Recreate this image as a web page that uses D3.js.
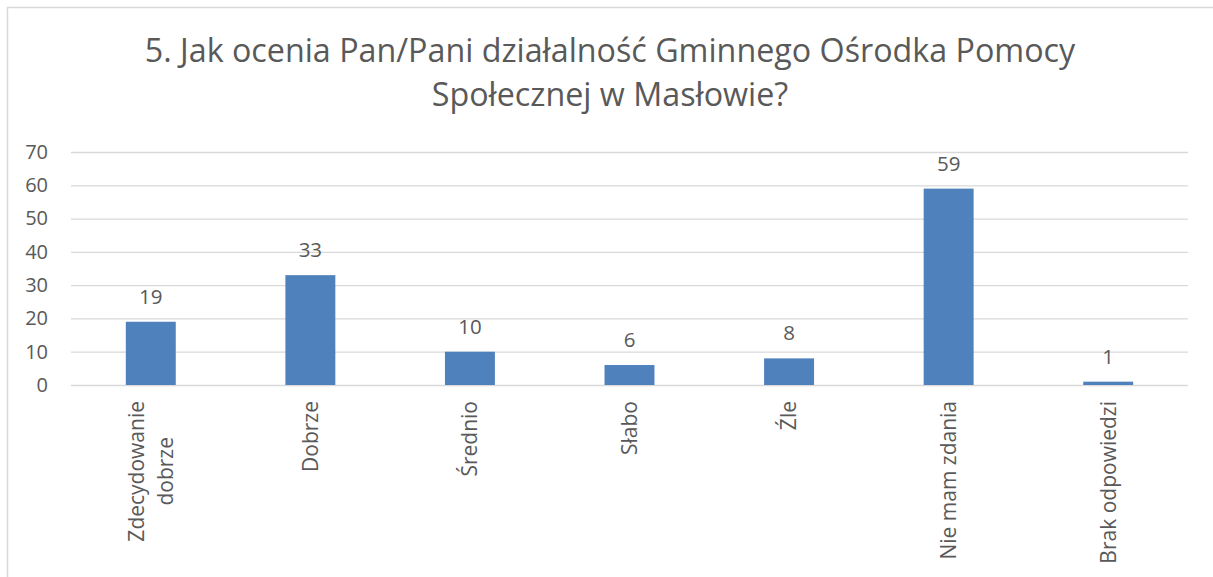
<!DOCTYPE html>
<html>
<head>
<meta charset="utf-8">
<script src="https://cdn.jsdelivr.net/npm/d3@7"></script>
<style>
  html, body { margin: 0; padding: 0; background: #fff; }
  svg { display: block; font-family: 'Open Sans', sans-serif; }
</style>
</head>
<body>
<div id="chart"></div>
<script>
// ── Data ──
const titleLines = ['5. Jak ocenia Pan/Pani działalność Gminnego Ośrodka Pomocy', 'Społecznej w Masłowie?'];
const categories = ['Zdecydowanie dobrze', 'Dobrze', 'Średnio', 'Słabo', 'Źle', 'Nie mam zdania', 'Brak odpowiedzi'];
const values = [19, 33, 10, 6, 8, 59, 1];
const yTicks = [0, 10, 20, 30, 40, 50, 60, 70];

const W = 1213, H = 577;
const PLOT = { left: 71, right: 1188, top: 152, bottom: 385 };
const TEXT = '#595959';
const GRID = '#d9d9d9';
const BAR = '#4f81bd';

const svg = d3.select('#chart').append('svg')
  .attr('width', W).attr('height', H);

// chart frame (left/top edges visible, the rest runs off the picture)
svg.append('rect')
  .attr('x', 7.5).attr('y', 7.5)
  .attr('width', W + 20).attr('height', H + 20)
  .attr('fill', 'none').attr('stroke', GRID).attr('stroke-width', 1.5);

// ── Title, sized to the reference line width ──
const title = svg.append('text')
  .attr('text-anchor', 'middle')
  .attr('fill', TEXT)
  .attr('font-size', 30);
title.selectAll('tspan').data(titleLines).enter().append('tspan')
  .attr('x', 610)
  .attr('y', (d, i) => 62 + i * 44)
  .text(d => d);
const firstLen = title.select('tspan').node().getComputedTextLength();
title.attr('font-size', 30 * 931 / firstLen);

// ── Scales ──
const x = d3.scaleBand()
  .domain(categories)
  .range([PLOT.left, PLOT.right])
  .paddingInner(0.687)
  .paddingOuter(0.3435);

const y = d3.scaleLinear()
  .domain([0, 70])
  .range([PLOT.bottom, PLOT.top]);

// ── Grid + y labels ──
const yAxis = svg.append('g')
  .attr('transform', `translate(${PLOT.left},0)`)
  .call(d3.axisLeft(y).tickValues(yTicks).tickSize(-(PLOT.right - PLOT.left)).tickPadding(23));
yAxis.select('.domain').remove();
yAxis.selectAll('line').attr('stroke', GRID).attr('stroke-width', 1.3);
yAxis.selectAll('text')
  .attr('fill', TEXT)
  .attr('font-size', 20)
  .attr('font-family', "'Open Sans', sans-serif");

// ── Bars ──
svg.append('g').selectAll('rect')
  .data(values)
  .enter().append('rect')
  .attr('x', (d, i) => x(categories[i]))
  .attr('y', d => y(d))
  .attr('width', x.bandwidth())
  .attr('height', d => y(0) - y(d))
  .attr('fill', BAR);

// ── Data labels ──
svg.append('g').selectAll('text')
  .data(values)
  .enter().append('text')
  .attr('x', (d, i) => x(categories[i]) + x.bandwidth() / 2)
  .attr('y', d => y(d) - 18)
  .attr('text-anchor', 'middle')
  .attr('fill', TEXT)
  .attr('font-size', 20.5)
  .text(d => d);

// ── Category labels (rotated, wrapped when too long) ──
const catFont = 21;
const lineGap = 29;
const catG = svg.append('g');
categories.forEach(name => {
  const cx = x(name) + x.bandwidth() / 2;
  const t = catG.append('text')
    .attr('transform', `translate(${cx},401) rotate(-90)`)
    .attr('text-anchor', 'end')
    .attr('fill', TEXT)
    .attr('font-size', catFont)
    .text(name);
  let lines = [name];
  if (t.node().getComputedTextLength() > 180 && name.includes(' ')) {
    const cut = name.lastIndexOf(' ');
    lines = [name.slice(0, cut), name.slice(cut + 1)];
  }
  t.text(null);
  lines.forEach((ln, i) => {
    t.append('tspan')
      .attr('x', 0)
      .attr('y', (i - (lines.length - 1) / 2) * lineGap)
      .attr('dy', '0.35em')
      .attr('text-anchor', 'middle')
      .text(ln);
  });
  // wrapped lines are centred on each other, single lines end at the top edge
  if (lines.length > 1) {
    const maxLen = d3.max(t.selectAll('tspan').nodes(), n => n.getComputedTextLength());
    t.selectAll('tspan').attr('x', -maxLen / 2);
  } else {
    t.selectAll('tspan').attr('text-anchor', 'end');
  }
});
</script>
</body>
</html>
